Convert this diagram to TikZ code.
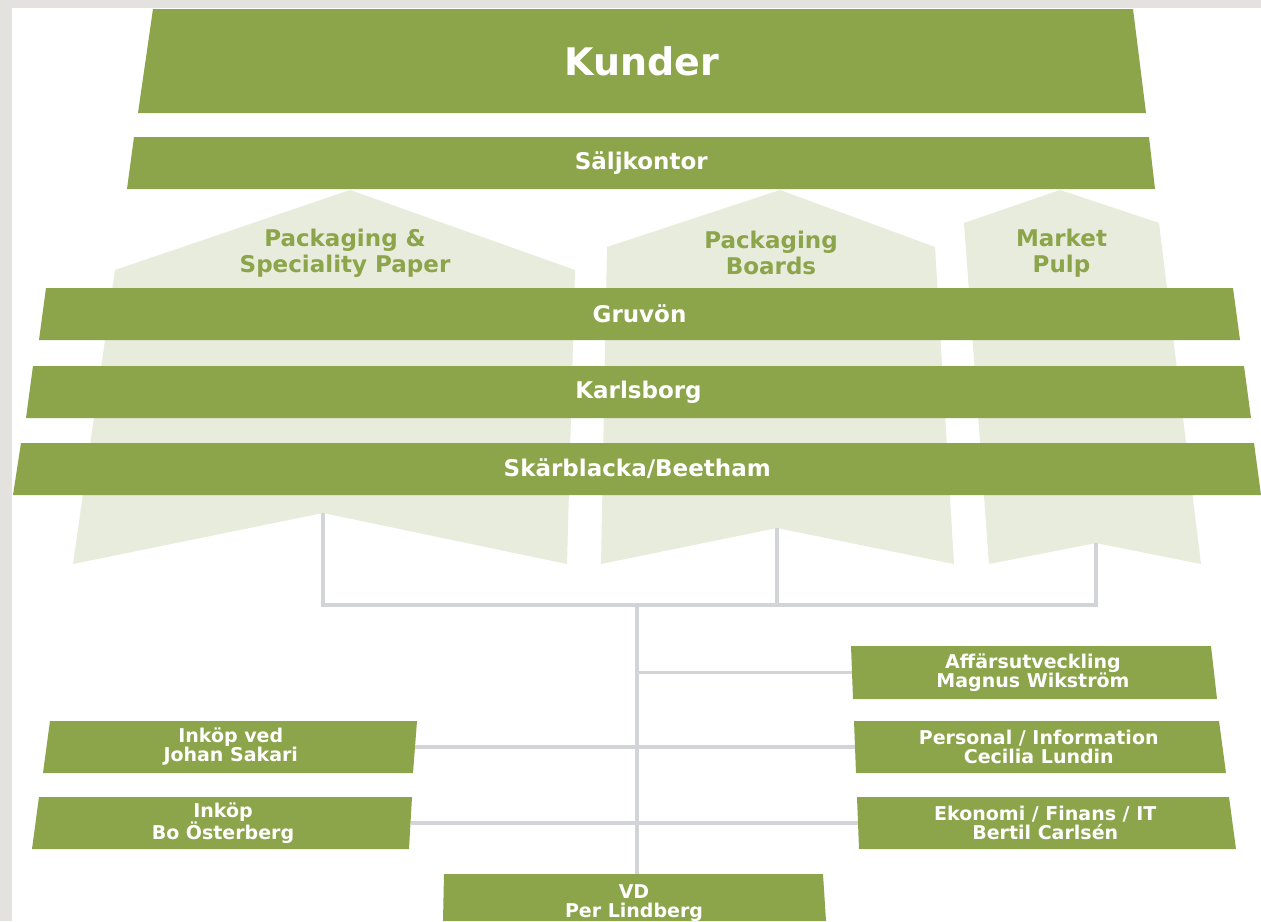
\documentclass[tikz,border=0pt]{standalone}
\usepackage{fontspec}
\setmainfont{DejaVu Sans}
\definecolor{leafgreen}{HTML}{8CA44A}
\definecolor{palegreen}{HTML}{E8ECDC}
\definecolor{linkgray}{HTML}{D3D4D8}
\definecolor{framegray}{HTML}{E3E2DE}
\begin{document}
\begin{tikzpicture} [
                x=1pt, y=-1pt,
                bar/.style={fill=leafgreen},
                bartext/.style={text=white,font=\bfseries\fontsize{23}{26}\selectfont,inner sep=0pt},
                boxtext/.style={text=white,font=\bfseries\fontsize{19}{19}\selectfont,align=center,inner sep=0pt},
                branch/.style={fill=palegreen},
                branchtext/.style={text=leafgreen,font=\bfseries\fontsize{23}{26}\selectfont,align=center,inner sep=0pt},
                link/.style={draw=linkgray,line width=3.5pt},
            ]
            \useasboundingbox (0,0) rectangle (1261,921);
            % Frame around the chart
            \fill[framegray] (0,0) rectangle (1261,921);
            \fill[white] (12,8) rectangle (1261,921);
            % First we draw the three business areas
            \foreach \name/\ax/\lx/\rx/\sy/\blx/\brx/\nx/\ny/\txt in {
                    paper/350/115/575/270/73/567/323/513/{Packaging \&\\Speciality Paper},
                    board/780/607/935/247/601/954/777/528/{Packaging\\Boards},
                    pulp/1060/964/1159/223/989/1201/1096/543/{Market\\Pulp}}
                {
                \fill[branch] (\ax,190) -- (\rx,\sy) -- (\brx,564) -- (\nx,\ny)
                    -- (\blx,564) -- (\lx,\sy) -- cycle;
                \coordinate (\name) at (\nx,\ny);
                \node[branchtext] (\name-label) at ({(\lx+\rx)/2},253) {\txt};
                }
            % Wide bars across the chart
            \fill[bar] (153,9) -- (1133,9) -- (1146,113) -- (138,113) -- cycle;
            \node[bartext,font=\bfseries\fontsize{38}{44}\selectfont] (kunder) at (642,61) {Kunder};
            \foreach \ya/\yb/\xa/\xb/\xc/\xd/\name/\txt in {
                    137/189/134/127/1149/1155/salj/Säljkontor,
                    288/340/46/39/1233/1240/gruvon/Gruvön,
                    366/418/33/26/1244/1251/karlsborg/Karlsborg,
                    443/495/21/13/1254/1261/skarblacka/{Skärblacka/Beetham}}
                {
                \fill[bar] (\xa,\ya) -- (\xc,\ya) -- (\xd,\yb) -- (\xb,\yb) -- cycle;
                \node[bartext] (\name) at ({(\xa+\xb+\xc+\xd)/4},{(\ya+\yb)/2}) {\txt};
                }
            % Staff functions
            \foreach \ya/\yb/\xa/\xb/\xc/\xd/\name/\txt in {
                    721/773/50/43/417/413/inkopved/{Inköp ved\\Johan Sakari},
                    797/849/39/32/412/409/inkop/{Inköp\\Bo Österberg},
                    646/699/851/853/1211/1217/affar/{Affärsutveckling\\Magnus Wikström},
                    721/773/854/856/1219/1226/personal/{Personal / Information\\Cecilia Lundin},
                    797/849/857/859/1229/1236/ekonomi/{Ekonomi / Finans / IT\\Bertil Carlsén}}
                {
                \fill[bar] (\xa,\ya) -- (\xc,\ya) -- (\xd,\yb) -- (\xb,\yb) -- cycle;
                \node[boxtext,minimum width={(\xc-\xa+\xd-\xb)/2}] (\name)
                    at ({(\xa+\xb+\xc+\xd)/4},{(\ya+\yb)/2}) {\txt};
                }
            \fill[bar] (444,874) -- (823,874) -- (826,921) -- (443,921) -- cycle;
            \node[boxtext,minimum height=58pt] (vd) at (634,903) {VD\\Per Lindberg};
            % Connect the chart with grey lines
            \coordinate (hub) at (637,605);
            \path[link] (paper) -- (paper |- hub) -- (pulp |- hub) -- (pulp);
            \path[link] (board) -- (board |- hub);
            \path[link] (hub) -- (vd.north -| hub);
            \path[link] (affar.west) -- (affar.west -| hub);
            \foreach \source/\dest in {inkopved/personal, inkop/ekonomi}
                \path[link] (\source.east) -- (\dest.west);
        \end{tikzpicture}
\end{document}
